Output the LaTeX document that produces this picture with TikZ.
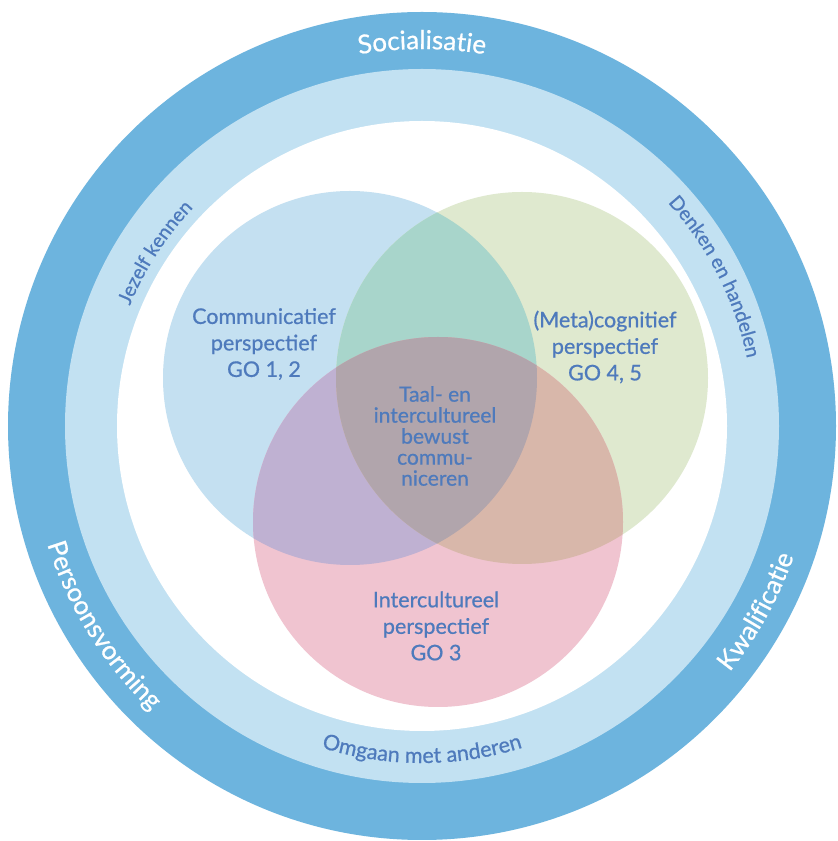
\documentclass[tikz,border=0pt]{standalone}
\usepackage{fontspec}
\setmainfont{Lato}
\newfontfamily\latomed[FakeBold=0.7]{Lato}
\usetikzlibrary{decorations.text}
\definecolor{ringdark}{RGB}{109,180,222}
\definecolor{ringlight}{RGB}{194,225,242}
\definecolor{vblue}{RGB}{196,224,241}
\definecolor{vgreen}{RGB}{223,233,207}
\definecolor{vpink}{RGB}{240,196,208}
\definecolor{vteal}{RGB}{168,213,203}
\definecolor{vpurple}{RGB}{191,177,210}
\definecolor{vorange}{RGB}{216,183,170}
\definecolor{vgrey}{RGB}{177,165,172}
\definecolor{txtblue}{RGB}{78,122,188}
\tikzset{
  venntext/.style={align=center, text=txtblue, font=\latomed\fontsize{21.5}{26.5}\selectfont},
  centertext/.style={align=center, text=txtblue, font=\latomed\fontsize{21}{21}\selectfont},
  outerarc/.style={decorate, decoration={text along path, text align=center,
     text={|\latomed\fontsize{26}{30}\selectfont\color{white}|#1}}},
  innerarc/.style={decorate, decoration={text along path, text align=center,
     text={|\latomed\fontsize{19.5}{22}\selectfont\color{txtblue}|#1}}},
  bottomarc/.style={decorate, decoration={text along path, text align=center,
     text={|\latomed\fontsize{21.5}{24}\selectfont\color{txtblue}|#1}}}
}
\begin{document}
\begin{tikzpicture}[x=1pt,y=1pt]
\useasboundingbox (0,0) rectangle (838,841);
\fill[white] (0,0) rectangle (838,841);
\coordinate (O) at (422,415);
\fill[ringdark] (O) circle (414);
\fill[ringlight] (O) circle (357);
\fill[white] (O) circle (305);
% Venn circles
\coordinate (B) at (350,463);
\coordinate (G) at (522,463);
\coordinate (P) at (438,319);
\fill[vblue] (B) circle (187);
\fill[vgreen] (G) circle (186);
\fill[vpink] (P) circle (185);
\begin{scope}\clip (B) circle (187); \fill[vteal] (G) circle (186);\end{scope}
\begin{scope}\clip (B) circle (187); \fill[vpurple] (P) circle (185);\end{scope}
\begin{scope}\clip (G) circle (186); \fill[vorange] (P) circle (185);\end{scope}
\begin{scope}\clip (B) circle (187); \clip (G) circle (186); \fill[vgrey] (P) circle (185);\end{scope}
% Venn labels
\node[venntext] (comm) at (264,497) {Communicatief\\perspectief\\GO 1, 2};
\node[venntext] (meta) at (605,494) {(Meta)cognitief\\perspectief\\GO 4, 5};
\node[venntext] (inter) at (436,215) {Intercultureel\\perspectief\\GO 3};
\node[centertext] (core) at (435,405) {Taal- en\\intercultureel\\bewust\\commu-\\niceren};
% ring texts
\begin{scope}[shift={(422,415)}]
\path[outerarc={Socialisatie}] (125:377) arc[start angle=125, end angle=55, radius=377];
\path[outerarc={Persoonsvorming}] (177:393) arc[start angle=177, end angle=247, radius=393];
\path[outerarc={Kwalificatie}] (-64:394) arc[start angle=-64, end angle=6, radius=394];
\path[innerarc={Jezelf kennen}] (182:316) arc[start angle=182, end angle=112, radius=316];
\path[innerarc={Denken en handelen}] (62:332) arc[start angle=62, end angle=-8, radius=332];
\path[bottomarc={Omgaan met anderen}] (235:337) arc[start angle=235, end angle=305, radius=337];
\end{scope}
\end{tikzpicture}
\end{document}
